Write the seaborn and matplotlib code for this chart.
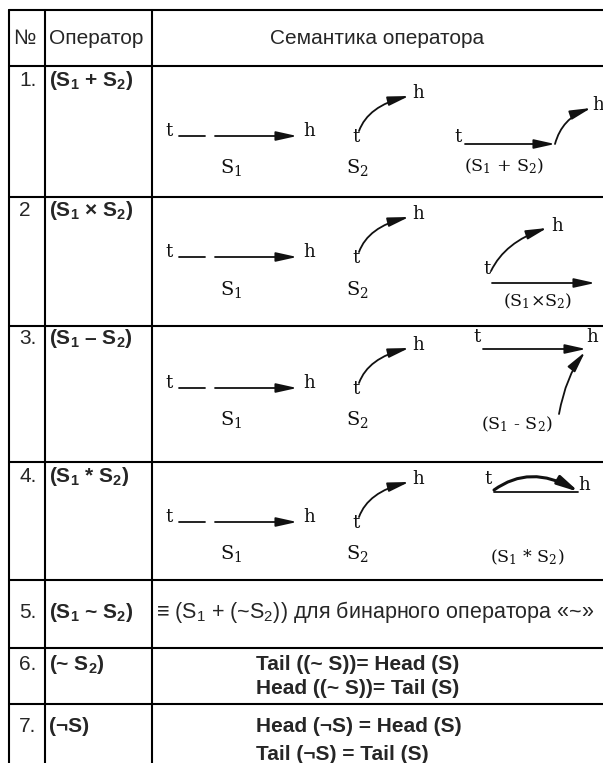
import numpy as np
import pandas as pd
import matplotlib
matplotlib.use("Agg")
import matplotlib.pyplot as plt
from matplotlib.path import Path
from matplotlib.patches import FancyArrowPatch
import seaborn as sns

# ---------------- data ----------------
header_labels = ["№", "Оператор", "Семантика оператора"]
row_numbers = ["1.", "2", "3.", "4.", "5.", "6.", "7."]
operator_labels = [
    r"(S$_\mathbf{1}$ + S$_\mathbf{2}$)",
    r"(S$_\mathbf{1}$ × S$_\mathbf{2}$)",
    r"(S$_\mathbf{1}$ – S$_\mathbf{2}$)",
    r"(S$_\mathbf{1}$ * S$_\mathbf{2}$)",
    r"(S$_\mathbf{1}$ ~ S$_\mathbf{2}$)",
    r"(~ S$_\mathbf{2}$)",
    "(¬S)",
]
diagram_captions = [r"(S$_1$ + S$_2$)", r"(S$_1$×S$_2$)", r"(S$_1$ - S$_2$)", r"(S$_1$ * S$_2$)"]
s_labels = [r"S$_1$", r"S$_2$"]
row5_text = r"≡ (S$_1$ + (~S$_2$)) для бинарного оператора «~»"
row6_lines = ["Tail ((~ S))= Head (S)", "Head ((~ S))= Tail (S)"]
row7_lines = ["Head (¬S) = Head (S)", "Tail (¬S) = Tail (S)"]

# ---------------- layout ----------------
W, H = 603, 763
col_x = [9, 45, 152]
row_y = [10, 66, 197, 326, 462, 580, 648, 704]

sns.set_theme(style="white")
plt.rcParams["font.family"] = ["Liberation Sans", "DejaVu Sans"]
plt.rcParams["mathtext.fontset"] = "custom"
plt.rcParams["mathtext.rm"] = "Liberation Sans"
plt.rcParams["mathtext.bf"] = "Liberation Sans:bold"
plt.rcParams["mathtext.it"] = "Liberation Sans:italic"

fig = plt.figure(figsize=(W / 100, H / 100), dpi=100)
ax = fig.add_axes([0, 0, 1, 1])

# table rules drawn with seaborn
segs = []
for i, y in enumerate(row_y):
    segs.append(pd.DataFrame({"x": [col_x[0], W], "y": [y, y], "seg": f"h{i}"}))
for i, x in enumerate(col_x):
    segs.append(pd.DataFrame({"x": [x, x], "y": [row_y[0], H], "seg": f"v{i}"}))
rules = pd.concat(segs, ignore_index=True)
sns.lineplot(data=rules, x="x", y="y", units="seg", estimator=None, sort=False,
             color="black", lw=1.5, ax=ax, legend=False)
ax.set_xlim(0, W)
ax.set_ylim(H, 0)
ax.set_xlabel("")
ax.set_ylabel("")
ax.axis("off")

INK = "#111111"
FS = 15
SERIF = "DejaVu Serif"


def arrow(points, codes, head=True, lw=1.3):
    style = "-|>,head_length=0.9,head_width=0.2" if head else "-"
    p = FancyArrowPatch(path=Path(points, codes), arrowstyle=style,
                        mutation_scale=14, lw=lw, color=INK)
    ax.add_patch(p)


def straight(x0, y0, x1, y1, head=True, lw=1.3):
    arrow([(x0, y0), (x1, y1)], [Path.MOVETO, Path.LINETO], head, lw)


def curve(p0, c, p1, head=True, lw=1.3):
    arrow([p0, c, p1], [Path.MOVETO, Path.CURVE3, Path.CURVE3], head, lw)


def th(x, y, s, size=13):
    ax.text(x, y, s, family=SERIF, fontsize=size, ha="center", va="center", color=INK)


def serif_label(x, y, s, size=14):
    ax.text(x, y, s, family=SERIF, math_fontfamily="dejavuserif", fontsize=size,
            ha="center", va="center", color=INK)


# header
hy = (row_y[0] + row_y[1]) / 2 + 1
ax.text(13, hy, header_labels[0], fontsize=FS, va="center", ha="left")
ax.text(49, hy, header_labels[1], fontsize=FS, va="center", ha="left")
ax.text((col_x[2] + W) / 2, hy, header_labels[2], fontsize=FS, va="center", ha="center")

# row numbers and operator labels
text_y = [row_y[1] + 14, row_y[2] + 13, row_y[3] + 13, row_y[4] + 14,
          (row_y[5] + row_y[6]) / 2 - 2, row_y[6] + 16, row_y[7] + 22]
for i in range(7):
    ax.text(19, text_y[i], row_numbers[i], fontsize=FS, va="center", ha="left")
    ax.text(49, text_y[i], operator_labels[i], fontsize=FS, fontweight="bold",
            va="center", ha="left")

# common S1 / S2 drawings for rows 1-4
row_shift = [10, 0, 2, 0]
for r in range(4):
    y0 = row_y[1 + r] + row_shift[r]
    ly = y0 + 60
    th(169, ly - 5, "t")
    straight(179, ly, 205, ly, head=False)
    straight(215, ly, 297, ly)
    th(309, ly - 5, "h")
    serif_label(231, y0 + 92, s_labels[0])
    # S2 curve
    curve((359, y0 + 55), (368, y0 + 30), (409, y0 + 20))
    th(356, y0 + 61, "t")
    th(418, y0 + 17, "h")
    serif_label(357, y0 + 92, s_labels[1])

# row 1 combination (S1 + S2)
y0 = row_y[1] + 10
th(458, y0 + 61, "t")
straight(465, y0 + 68, 555, y0 + 68)
curve((555, y0 + 68), (562, y0 + 42), (591, y0 + 32))
th(598, y0 + 29, "h")
serif_label(504, y0 + 90, diagram_captions[0], size=12.5)

# row 2 combination (S1 x S2)
y0 = row_y[2]
th(487, y0 + 72, "t")
curve((491, y0 + 74), (505, y0 + 45), (547, y0 + 31))
th(557, y0 + 29, "h")
straight(492, y0 + 86, 595, y0 + 86)
serif_label(538, y0 + 104, diagram_captions[1], size=12.5)

# row 3 combination (S1 - S2)
y0 = row_y[3]
th(477, y0 + 11, "t")
straight(483, y0 + 23, 586, y0 + 23)
th(592, y0 + 11, "h")
curve((559, y0 + 88), (566, y0 + 50), (585, y0 + 26))
serif_label(517, y0 + 98, diagram_captions[2], size=12.5)

# row 4 combination (S1 * S2)
y0 = row_y[4]
th(488, y0 + 17, "t")
straight(494, y0 + 30, 578, y0 + 30, head=False)
curve((494, y0 + 28), (530, y0 + 2), (579, y0 + 30), lw=2.2)
th(584, y0 + 23, "h")
serif_label(527, y0 + 95, diagram_captions[3], size=12.5)

# row 5 text
ax.text(156, text_y[4], row5_text, fontsize=15.5, va="center", ha="left")

# rows 6 and 7
for k, s in enumerate(row6_lines):
    ax.text(256, row_y[6] + 16 + 25 * k, s, fontsize=FS, fontweight="bold", va="center", ha="left")
for k, s in enumerate(row7_lines):
    ax.text(256, row_y[7] + 22 + 28 * k, s, fontsize=FS, fontweight="bold", va="center", ha="left")

fig.savefig("out.png", dpi=100, facecolor="white")
